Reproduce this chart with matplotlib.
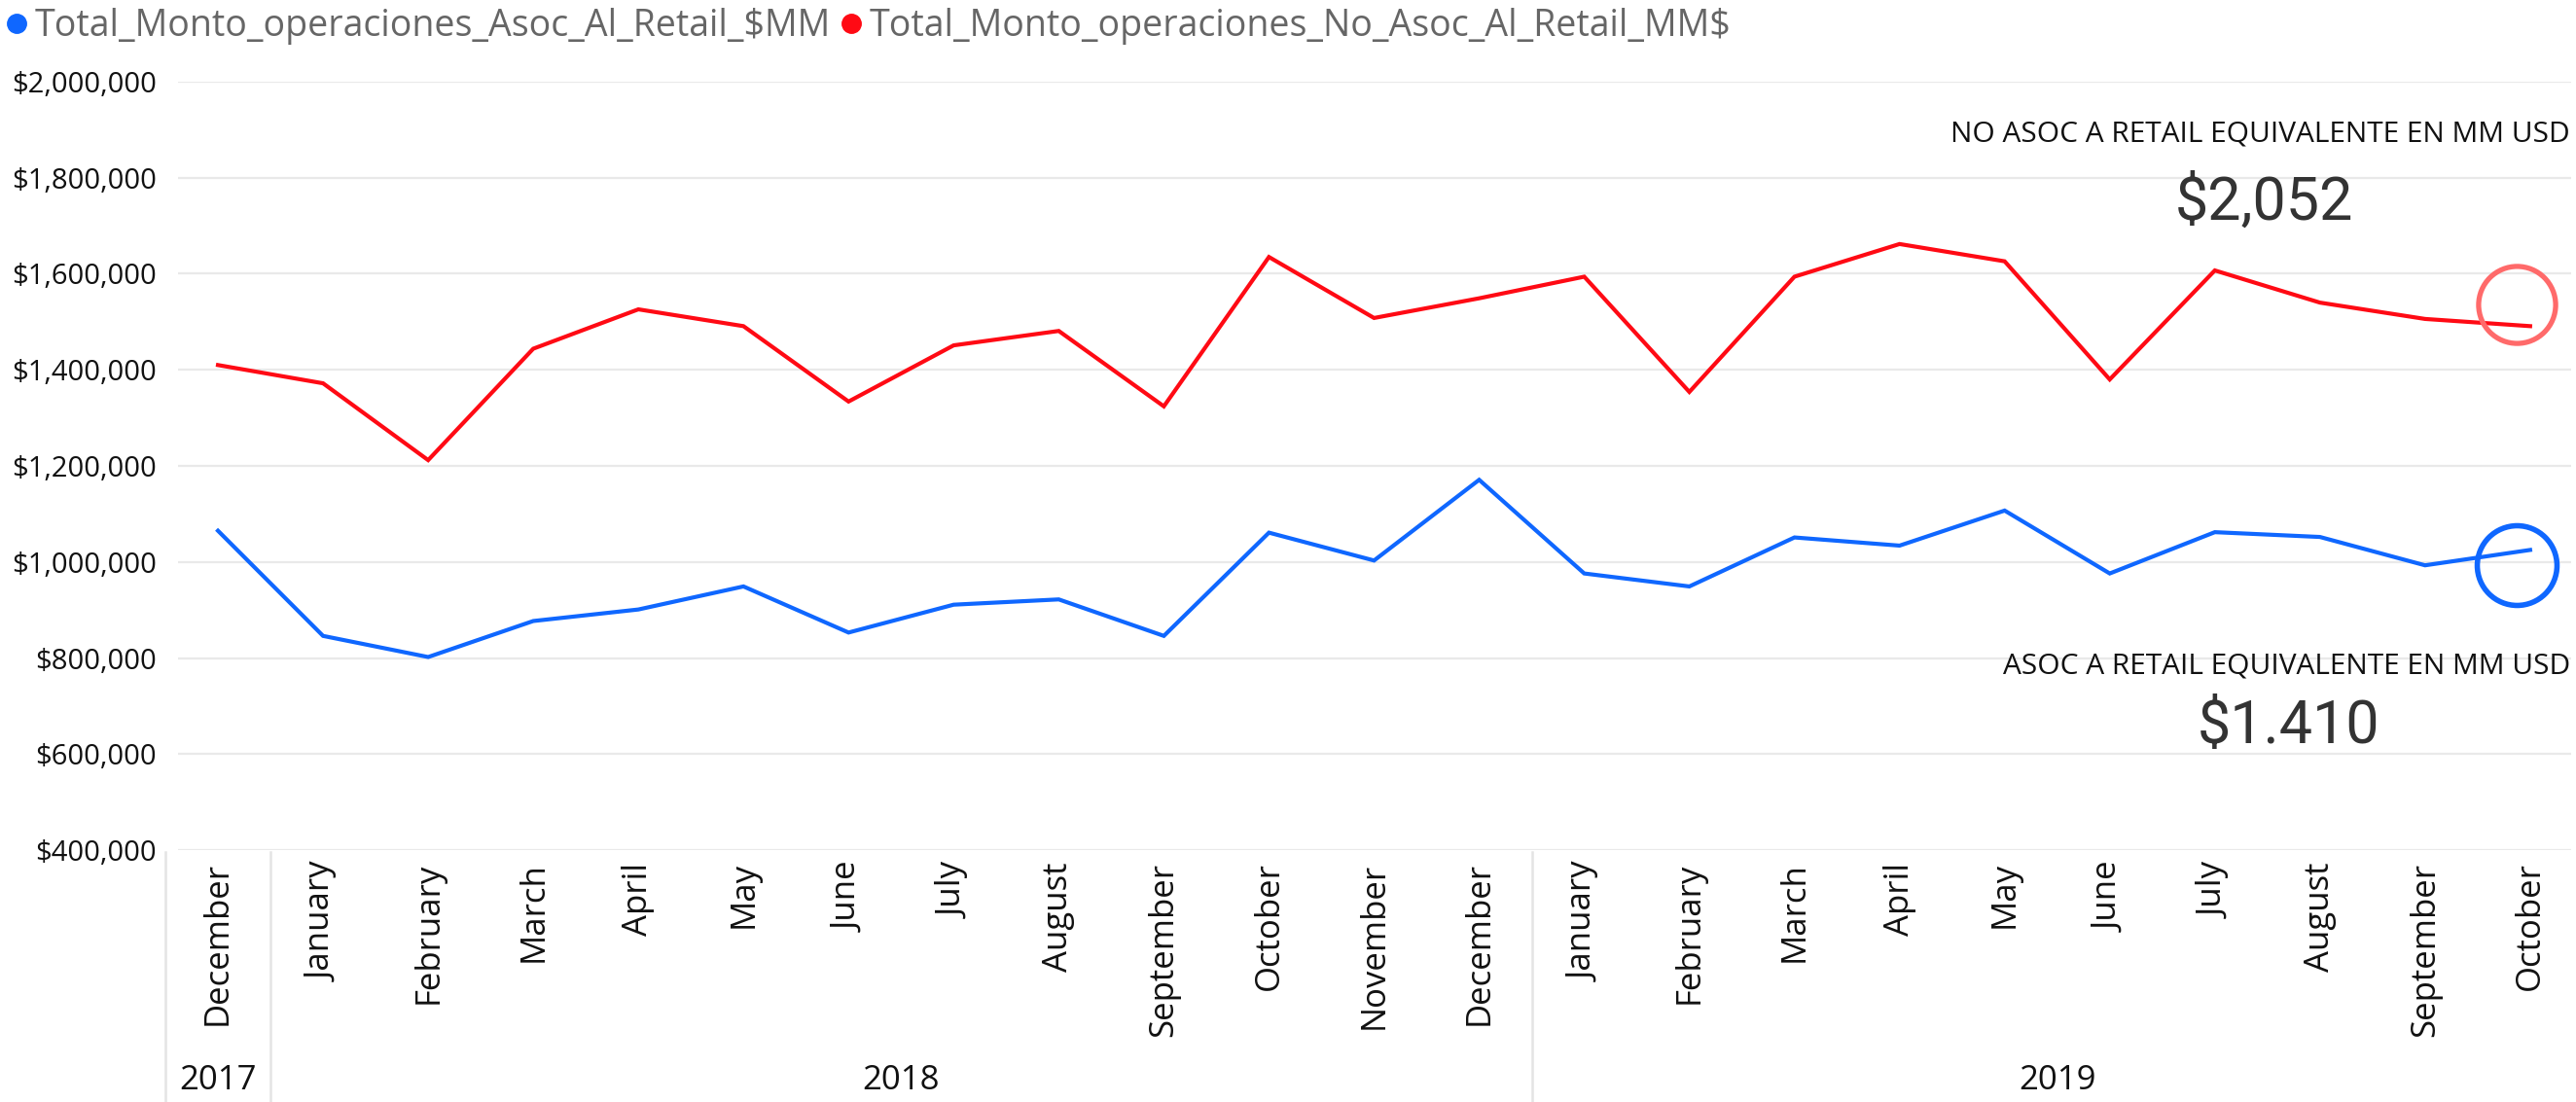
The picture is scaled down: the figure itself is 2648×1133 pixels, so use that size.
import matplotlib
matplotlib.use("Agg")
import matplotlib.pyplot as plt
from matplotlib.lines import Line2D
from matplotlib.ticker import FuncFormatter
import matplotlib.transforms as mtransforms

plt.rcParams['font.family'] = ['Open Sans', 'DejaVu Sans']

# data
months = ['December',
          'January', 'February', 'March', 'April', 'May', 'June', 'July',
          'August', 'September', 'October', 'November', 'December',
          'January', 'February', 'March', 'April', 'May', 'June', 'July',
          'August', 'September', 'October']
years = ['2017', '2018', '2019']
year_counts = [1, 12, 10]

asoc_retail = [1065000, 846000, 802000, 877000, 901000, 949000, 853000, 911000,
               922000, 846000, 1061000, 1003000, 1171000, 976000, 949000, 1051000,
               1034000, 1107000, 976000, 1062000, 1052000, 993000, 1025000]
no_asoc_retail = [1410000, 1372000, 1212000, 1444000, 1526000, 1491000, 1334000, 1451000,
                  1481000, 1324000, 1635000, 1508000, 1549000, 1594000, 1354000, 1594000,
                  1662000, 1626000, 1380000, 1607000, 1540000, 1506000, 1491000]

series_names = ['Total_Monto_operaciones_Asoc_Al_Retail_$MM',
                'Total_Monto_operaciones_No_Asoc_Al_Retail_MM$']
kpi_no_asoc_title = 'NO ASOC A RETAIL EQUIVALENTE EN MM USD'
kpi_no_asoc_value = '$2,052'
kpi_asoc_title = 'ASOC A RETAIL EQUIVALENTE EN MM USD'
kpi_asoc_value = '$1.410'

blue = '#0F67FF'
red = '#FF0A14'
W, H = 2648, 1133


def fx(x):
    return x / W


def fy(y):
    return 1 - y / H


fig = plt.figure(figsize=(W / 100, H / 100), dpi=100)
ax = fig.add_axes([fx(183), fy(874), fx(2643) - fx(183), fy(84) - fy(874)])

x = list(range(len(months)))
ax.plot(x, asoc_retail, color=blue, lw=3.0, solid_joinstyle='miter')
ax.plot(x, no_asoc_retail, color=red, lw=3.0, solid_joinstyle='miter')

# highlight circles near the last point
last = len(x) - 1
ax.plot(last - 0.13, no_asoc_retail[-1] + 45000, 'o', ms=57, mfc='none',
        mec='#FF6A6A', mew=3.8, clip_on=False)
ax.plot(last - 0.13, asoc_retail[-1] - 32000, 'o', ms=59, mfc='none',
        mec=blue, mew=4.0, clip_on=False)

ax.set_xlim(-0.38, 22.39)
ax.set_ylim(400000, 2000000)
ax.set_yticks(range(400000, 2000001, 200000))
ax.yaxis.set_major_formatter(FuncFormatter(lambda v, p: '${:,.0f}'.format(v)))
ax.grid(axis='y', color='#E9E9E9', lw=1.6)
ax.set_axisbelow(True)
for s in ax.spines.values():
    s.set_visible(False)
ax.tick_params(axis='y', length=0, pad=16, labelsize=21, labelcolor='#111111')
ax.set_xticks(x)
ax.set_xticklabels(months, rotation=90, fontsize=25, color='#111111')
ax.tick_params(axis='x', length=0, pad=9)

# year separators and labels
trans = mtransforms.blended_transform_factory(ax.transData, fig.transFigure)
start = 0
for yr, n in zip(years, year_counts):
    ax.plot([start - 0.5, start - 0.5], [fy(876), 0], color='#E4E4E4', lw=1.8,
            transform=trans, clip_on=False)
    fig.text(ax.transData.transform((start + (n - 1) / 2, 0))[0] / W, fy(1111), yr,
             ha='center', va='center', fontsize=25, color='#111111')
    start += n

# KPI texts
fig.text(fx(2642), fy(138), kpi_no_asoc_title, ha='right', va='center',
         fontsize=21.5, color='#111111')
fig.text(fx(2327), fy(208), kpi_no_asoc_value, ha='center', va='center',
         fontsize=44, color='#333333', family=['Roboto', 'DejaVu Sans'])
fig.text(fx(2642), fy(685), kpi_asoc_title, ha='right', va='center',
         fontsize=21.5, color='#111111')
fig.text(fx(2353), fy(747), kpi_asoc_value, ha='center', va='center',
         fontsize=44, color='#333333', family=['Roboto', 'DejaVu Sans'])

# legend
handles = [Line2D([], [], marker='o', ls='', color=blue, ms=14),
           Line2D([], [], marker='o', ls='', color=red, ms=14)]
fig.legend(handles, series_names, loc='upper left', bbox_to_anchor=(fx(8), fy(8)),
           ncol=2, frameon=False, fontsize=27, labelcolor='#666666',
           handlelength=0.5, handletextpad=0.25, columnspacing=0.3, borderpad=0,
           borderaxespad=0)

fig.savefig('out.png', dpi=100)
